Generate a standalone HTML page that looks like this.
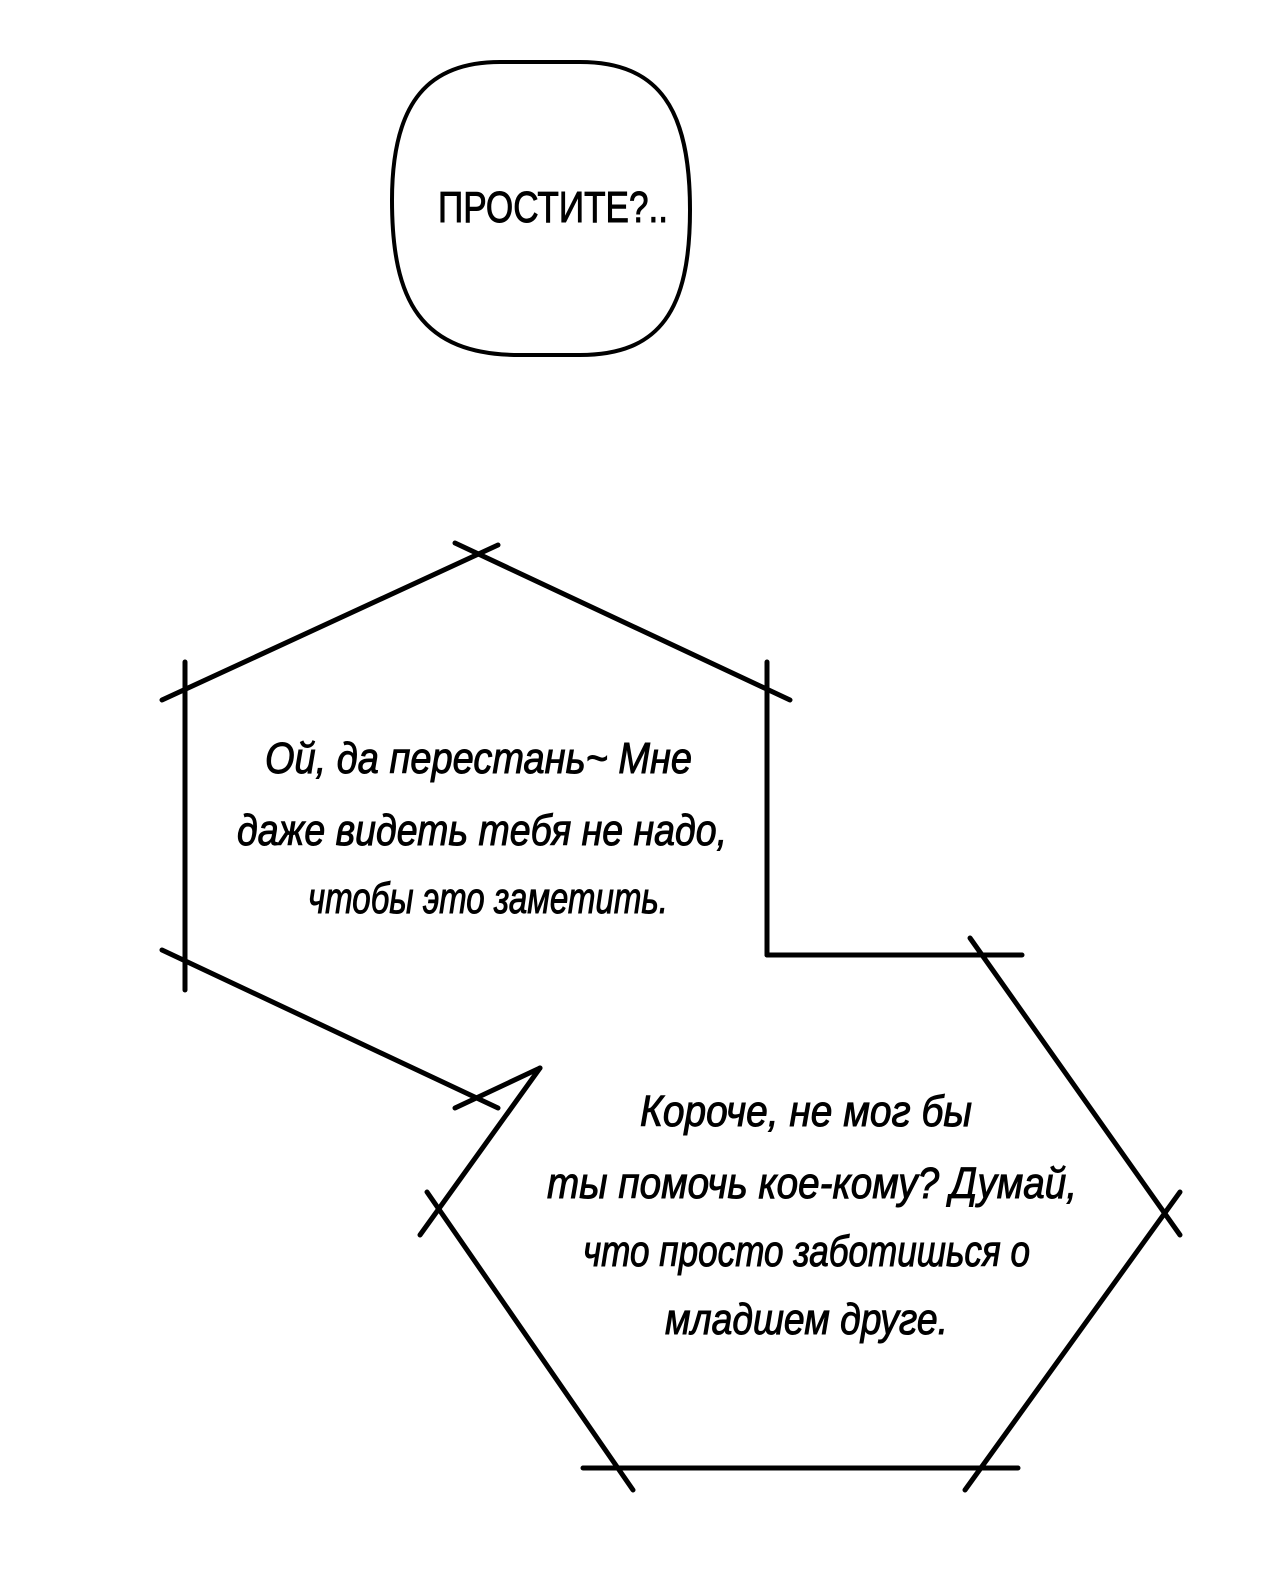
<!DOCTYPE html>
<html><head><meta charset="utf-8"><style>html,body{margin:0;padding:0;background:#fff}svg{display:block}</style></head>
<body>
<svg width="1280" height="1574" viewBox="0 0 1280 1574" xmlns="http://www.w3.org/2000/svg">
<rect width="1280" height="1574" fill="#fff"/>
<g fill="none" stroke="#000" stroke-width="5" stroke-linecap="round">
<path d="M500,62 C430,62 392,100 392,200 C392,300 420,355 520,355 L580,355 C660,355 690,310 690,210 C690,110 660,62 580,62 Z" stroke-width="4"/>
<line x1="162" y1="700" x2="498" y2="545"/>
<line x1="455" y1="543" x2="790" y2="700"/>
<line x1="185" y1="662" x2="185" y2="990"/>
<line x1="767" y1="662" x2="767" y2="955"/>
<line x1="767" y1="955" x2="1022" y2="955"/>
<line x1="162" y1="950" x2="498" y2="1108"/>
<line x1="455" y1="1108" x2="540" y2="1068"/>
<line x1="540" y1="1068" x2="420" y2="1235"/>
<line x1="427" y1="1192" x2="633" y2="1490"/>
<line x1="970" y1="938" x2="1180" y2="1235"/>
<line x1="1180" y1="1192" x2="965" y2="1490"/>
<line x1="583" y1="1468" x2="1018" y2="1468"/>
</g>
<g font-family="Liberation Sans Narrow, Liberation Sans, sans-serif" fill="#000" stroke="#000" stroke-width="1">
<text x="438" y="222" font-size="44" textLength="230" lengthAdjust="spacingAndGlyphs">ПРОСТИТЕ?..</text>
<g font-size="44" font-style="italic">
<text x="265" y="773" textLength="427" lengthAdjust="spacingAndGlyphs">Ой, да перестань~ Мне</text>
<text x="237" y="845" textLength="490" lengthAdjust="spacingAndGlyphs">даже видеть тебя не надо,</text>
<text x="308" y="913" textLength="360" lengthAdjust="spacingAndGlyphs">чтобы это заметить.</text>
<text x="640" y="1126" textLength="332" lengthAdjust="spacingAndGlyphs">Короче, не мог бы</text>
<text x="547" y="1198" textLength="530" lengthAdjust="spacingAndGlyphs">ты помочь кое-кому? Думай,</text>
<text x="583" y="1266" textLength="447" lengthAdjust="spacingAndGlyphs">что просто заботишься о</text>
<text x="665" y="1334" textLength="283" lengthAdjust="spacingAndGlyphs">младшем друге.</text>
</g>
</g>
</svg>
</body></html>
